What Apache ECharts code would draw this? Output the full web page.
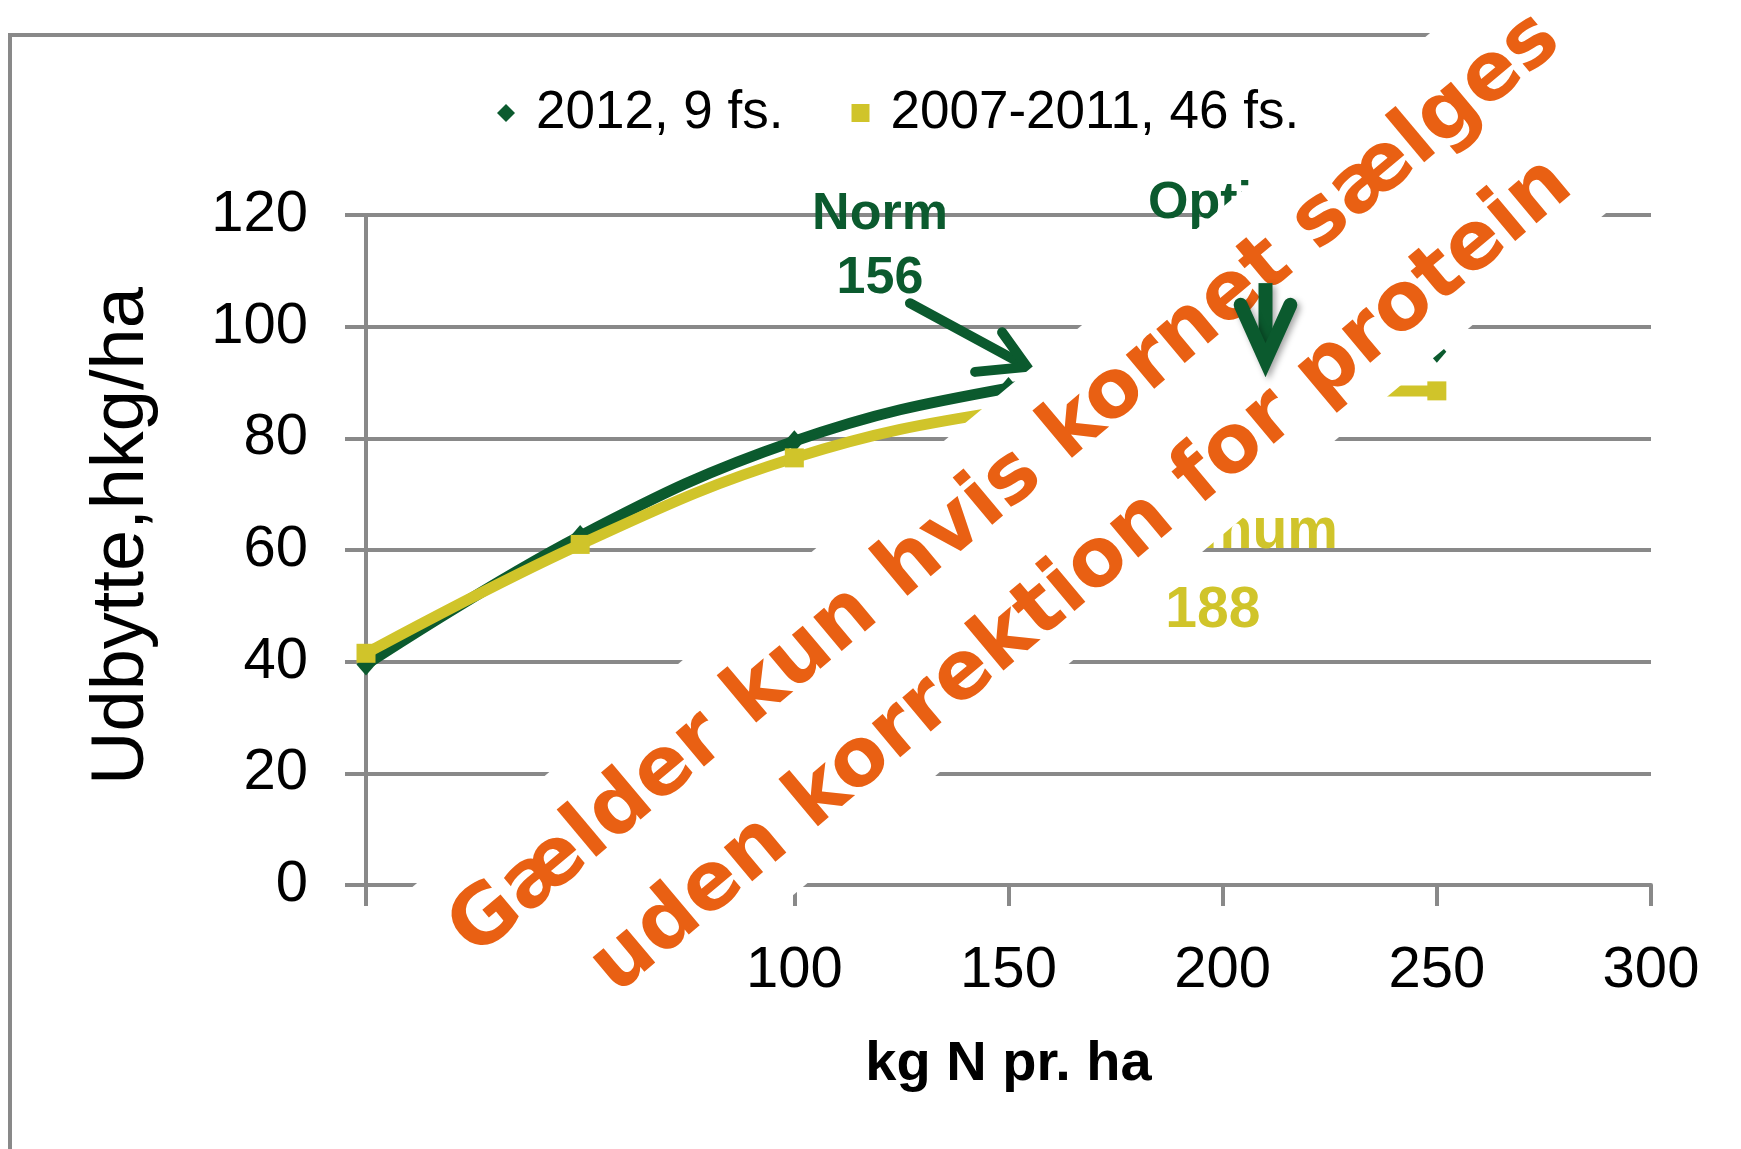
<!DOCTYPE html>
<html><head><meta charset="utf-8">
<script src="https://cdn.jsdelivr.net/npm/echarts@6/dist/echarts.min.js"></script>
<style>html,body{margin:0;padding:0;background:#fff}#c{width:1741px;height:1149px}</style>
</head><body><div id="c"></div>
<script>
// ---- data ----
const xValues = [0, 50, 100, 150, 200, 250];
const yield2012 = [39.5, 62.5, 79.5, 89, 93.5, 95.5];
const yield0711 = [41.5, 61, 76.5, 85, 88.5, 88.5];
const seriesNames = ['2012, 9 fs.', '2007-2011, 46 fs.'];
const xTicks = [0, 50, 100, 150, 200, 250, 300];
const yTicks = [0, 20, 40, 60, 80, 100, 120];
const normN = 156;
const optN2012 = 210;
const optN0711 = 188;
const watermark = ['Gælder kun hvis kornet sælges', 'uden korrektion for protein'];

// ---- style ----
const GREEN = '#0B5A2E', YELLOW = '#D0C42A', ORANGE = '#E96013', GRAY = '#898989';
const FONT = '"Liberation Sans", Arial, sans-serif';

const chart = echarts.init(document.getElementById('c'), null, {renderer: 'canvas'});
const option = {
  animation: false,
  backgroundColor: '#ffffff',
  grid: {left: 366, right: 90, top: 215, bottom: 264, containLabel: false},
  legend: {
    left: 492, top: 78, itemWidth: 18, itemHeight: 18, itemGap: 68,
    selectedMode: false,
    textStyle: {fontFamily: FONT, fontSize: 53, color: '#000', padding: [0, 0, 0, 16], lineHeight: 60},
    data: [{name: seriesNames[0], icon: 'diamond'}, {name: seriesNames[1], icon: 'rect'}]
  },
  xAxis: {
    type: 'value', min: xTicks[0], max: xTicks[xTicks.length - 1], interval: xTicks[1] - xTicks[0],
    name: 'kg N pr. ha', nameLocation: 'middle', nameGap: 152,
    nameTextStyle: {fontFamily: FONT, fontWeight: 'bold', fontSize: 56, color: '#000'},
    axisLine: {show: true, onZero: false, lineStyle: {color: GRAY, width: 4}},
    axisTick: {show: true, length: 21, lineStyle: {color: GRAY, width: 4}},
    axisLabel: {margin: 57, fontFamily: FONT, fontSize: 58, color: '#000'},
    splitLine: {show: false}
  },
  yAxis: {
    type: 'value', min: yTicks[0], max: yTicks[yTicks.length - 1], interval: yTicks[1] - yTicks[0],
    name: 'Udbytte,hkg/ha', nameLocation: 'middle', nameGap: 206, nameRotate: 90,
    nameTextStyle: {fontFamily: FONT, fontSize: 74, color: '#000', padding: [0, 0, 0, 28]},
    axisLine: {show: true, lineStyle: {color: GRAY, width: 4}},
    axisTick: {show: true, length: 21, lineStyle: {color: GRAY, width: 4}},
    axisLabel: {margin: 58, fontFamily: FONT, fontSize: 58, color: '#000'},
    splitLine: {show: true, lineStyle: {color: GRAY, width: 4}}
  },
  series: [
    {
      name: seriesNames[0], type: 'line', smooth: 0.4, z: 3,
      data: xValues.map((x, i) => [x, yield2012[i]]),
      symbol: 'diamond', symbolSize: [19, 22], showSymbol: true,
      lineStyle: {color: GREEN, width: 11}, itemStyle: {color: GREEN}
    },
    {
      name: seriesNames[1], type: 'line', smooth: 0.4, z: 4,
      data: xValues.map((x, i) => [x, yield0711[i]]),
      symbol: 'rect', symbolSize: 19, showSymbol: true,
      lineStyle: {color: YELLOW, width: 11}, itemStyle: {color: YELLOW}
    }
  ]
};
chart.setOption(option);

const P = (x, y) => chart.convertToPixel({gridIndex: 0}, [x, y]);
function label(txt, x, y, size, color) {
  const p = P(x, y);
  return {type: 'text', z: 10, style: {text: txt, x: p[0], y: p[1], textAlign: 'center', textVerticalAlign: 'middle',
    align: 'center', verticalAlign: 'middle', font: 'bold ' + size + 'px ' + FONT, fill: color}};
}
function poly(pts, width, color, z, extra) {
  const s = Object.assign({stroke: color, lineWidth: width, lineCap: 'round', lineJoin: 'miter', fill: null}, extra || {});
  return {type: 'polyline', z: z, shape: {points: pts.map(p => P(p[0], p[1]))}, style: s};
}

const graphic = [
  // outer chart border
  {type: 'rect', z: 1, shape: {x: 10, y: 35, width: 1800, height: 1250}, style: {fill: null, stroke: GRAY, lineWidth: 4}},
  // annotations under the watermark
  label('Norm', 120, 120.1, 52, GREEN),
  label(String(normN), 120, 108.6, 52, GREEN),
  label('Optimum', optN2012 - 0.8, 122.0, 52, GREEN),
  label(String(optN2012), optN2012 - 0.8, 110.5, 52, GREEN),
  label('Optimum', 197.7, 63.2, 57, YELLOW),
  label(String(optN0711), 197.7, 49.0, 57, YELLOW),
  // norm arrow
  poly([[127.0, 104.2], [153.5, 93.2]], 10, GREEN, 10, {lineCap: 'round'}),
  poly([[148.5, 99.0], [154.3, 92.8], [142.2, 91.9]], 10, GREEN, 10),
  // watermark band
  {type: 'group', x: 1039, y: 525, rotation: 40 * Math.PI / 180, z: 50, children: [
    {type: 'rect', z: 50, shape: {x: -1400, y: -125.5, width: 2800, height: 251}, style: {fill: '#ffffff'}},
    {type: 'text', z: 51, style: {text: watermark.join('\n'), x: 0, y: 8, textAlign: 'center', textVerticalAlign: 'middle',
      align: 'center', verticalAlign: 'middle', lineHeight: 119, font: 'bold 81px "DejaVu Sans", Verdana, sans-serif', fill: ORANGE}}
  ]},
  // optimum arrow (2012) on top
  poly([[optN2012, 107.8], [optN2012, 96.5]], 14, GREEN, 60, {lineCap: 'butt', shadowColor: 'rgba(0,0,0,0.35)', shadowBlur: 6, shadowOffsetX: 3, shadowOffsetY: 3}),
  poly([[optN2012 - 5.8, 103.9], [optN2012, 94.0], [optN2012 + 5.8, 103.9]], 14, GREEN, 61, {shadowColor: 'rgba(0,0,0,0.35)', shadowBlur: 6, shadowOffsetX: 3, shadowOffsetY: 3})
];
chart.setOption({graphic: graphic});
</script></body></html>
